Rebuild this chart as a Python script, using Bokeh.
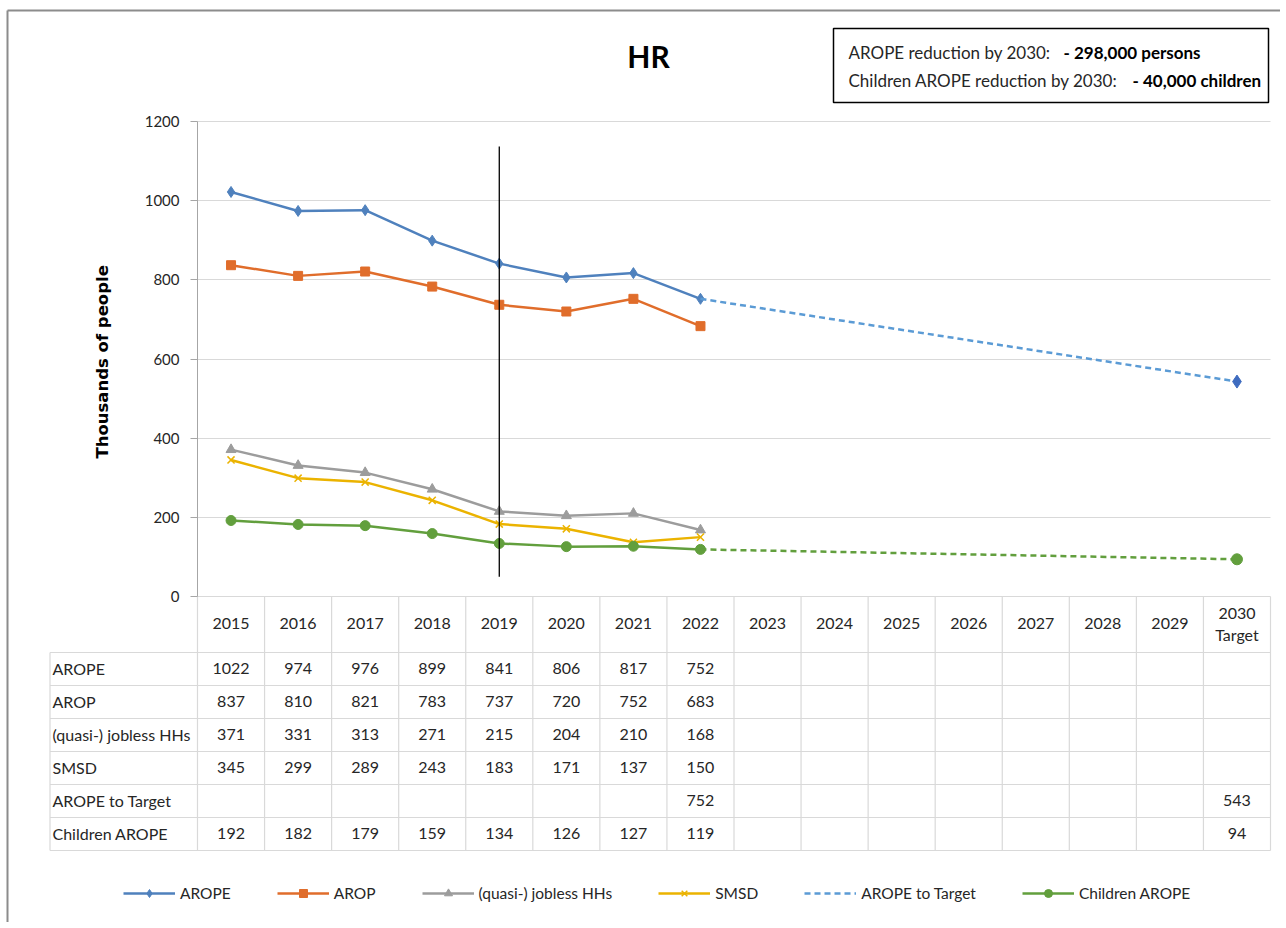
from bokeh.plotting import figure
from bokeh.models import Range1d, FixedTicker, Legend, LegendItem
from bokeh.embed import file_html
from bokeh.resources import INLINE
from bokeh.core.properties import value

# ---------------- data ----------------
categories = ["2015", "2016", "2017", "2018", "2019", "2020", "2021", "2022",
              "2023", "2024", "2025", "2026", "2027", "2028", "2029", "2030 Target"]
header_labels = categories[:-1] + ["2030\nTarget"]
years = ["2015", "2016", "2017", "2018", "2019", "2020", "2021", "2022"]
arope = [1022, 974, 976, 899, 841, 806, 817, 752]
arop = [837, 810, 821, 783, 737, 720, 752, 683]
jobless = [371, 331, 313, 271, 215, 204, 210, 168]
smsd = [345, 299, 289, 243, 183, 171, 137, 150]
target_x = ["2022", "2030 Target"]
arope_target = [752, 543]
children = [192, 182, 179, 159, 134, 126, 127, 119]
children_target = [119, 94]
y_ticks = [0, 200, 400, 600, 800, 1000, 1200]
marker_year = "2019"
marker_span = [50, 1137]
title_text = "HR"
box_line1 = ("AROPE reduction by 2030: ", "- 298,000 persons")
box_line2 = ("Children AROPE reduction by 2030: ", "- 40,000 children")
row_names = ["AROPE", "AROP", "(quasi-) jobless HHs", "SMSD", "AROPE to Target", "Children AROPE"]

# ---------------- styles / layout ----------------
C_AROPE = "#4f81bd"
C_AROP = "#e06d2b"
C_JOB = "#9c9c9c"
C_SMSD = "#ebb300"
C_TGT = "#5b9bd5"
C_TGT_M = "#3e6bbf"
C_CH = "#629f3d"
GRID = "#d9d9d9"
FONT = "Lato"
TXT = "#262626"
LW = 2.5

PAGE0 = 0                        # page offset of the figure (template has no margin)
W, H = 1280, 922
FRAME_L, FRAME_R = 197, 1270     # page px of chart plot area
FRAME_B, Y1200 = 596, 121
N = len(categories)
PX = (FRAME_R - FRAME_L) / N     # px per category
UPP = 1200 / (FRAME_B - Y1200)   # data units per px


def X(px):
    return (px - FRAME_L) / PX


def Y(py):
    return (FRAME_B - py) * UPP


def xpos(cat):
    return categories.index(cat) + 0.5


p = figure(width=W, height=H,
           x_range=Range1d(X(PAGE0), X(PAGE0 + W)),
           y_range=Range1d(Y(PAGE0 + H), Y(PAGE0)),
           x_axis_location=None, title=None, toolbar_location=None,
           output_backend="svg", min_border=0, outline_line_color=None,
           background_fill_color="white", border_fill_color="white")

# grid limited to the chart area
p.xgrid.visible = False
try:
    p.ygrid.cross_bounds = (0, N)
    p.ygrid.ticker = FixedTicker(ticks=y_ticks[1:])
    p.ygrid.grid_line_color = GRID
except AttributeError:
    p.ygrid.visible = False
    gy = y_ticks[1:]
    p.segment(x0=[0] * len(gy), x1=[N] * len(gy), y0=gy, y1=gy,
              line_color=GRID, line_width=1)

# y axis placed at the chart's left edge
ax = p.yaxis[0]
ax.fixed_location = 0
ax.ticker = FixedTicker(ticks=y_ticks)
ax.bounds = (0, 1200)
ax.axis_line_color = "#a6a6a6"
ax.major_tick_line_color = "#a6a6a6"
ax.major_tick_out = 7
ax.major_tick_in = 0
ax.minor_tick_line_color = None
ax.major_label_standoff = 11
ax.major_label_text_font = FONT
ax.major_label_text_font_size = "15px"
ax.major_label_text_color = TXT
ax.axis_label = "Thousands  of people"
ax.axis_label_text_font = "DejaVu Sans"
ax.axis_label_text_font_style = "bold"
ax.axis_label_text_font_size = "16.5px"
ax.axis_label_text_color = "black"
ax.axis_label_standoff = 30

# outer chart border (top and left visible)
p.segment(x0=[X(7), X(7)], x1=[X(7), X(PAGE0 + W)], y0=[Y(PAGE0 + H), Y(10)],
          y1=[Y(10), Y(10)], line_color="#8c8c8c", line_width=2)

# ---------------- series ----------------
yx = [xpos(c) for c in years]
tx = [xpos(c) for c in target_x]
l1 = p.line(yx, arope, line_color=C_AROPE, line_width=LW)
s1 = p.scatter(yx, arope, marker="diamond", size=11, fill_color=C_AROPE, line_color=C_AROPE)
l2 = p.line(yx, arop, line_color=C_AROP, line_width=LW)
s2 = p.scatter(yx, arop, marker="square", size=9, fill_color=C_AROP, line_color=C_AROP)
l3 = p.line(yx, jobless, line_color=C_JOB, line_width=LW)
s3 = p.scatter(yx, jobless, marker="triangle", size=10, fill_color=C_JOB, line_color=C_JOB)
l4 = p.line(yx, smsd, line_color=C_SMSD, line_width=LW)
s4 = p.scatter(yx, smsd, marker="x", size=10, line_color=C_SMSD, line_width=1.5)
l5 = p.line(tx, arope_target, line_color=C_TGT, line_width=LW, line_dash="6 4")
p.scatter(tx[-1:], arope_target[-1:], marker="diamond", size=13,
          fill_color=C_TGT_M, line_color=C_TGT_M)
l6 = p.line(yx, children, line_color=C_CH, line_width=LW)
s6 = p.scatter(yx, children, size=10, fill_color=C_CH, line_color=C_CH)
p.line(tx, children_target, line_color=C_CH, line_width=LW, line_dash="6 4")
p.scatter(tx[-1:], children_target[-1:], size=11, fill_color=C_CH, line_color=C_CH)

vx = xpos(marker_year)
p.segment(x0=[vx], x1=[vx], y0=[marker_span[0]], y1=[marker_span[1]],
          line_color="black", line_width=1.3)

# ---------------- title + annotation box ----------------
p.text(x=[X(648)], y=[Y(55)], text=[title_text], text_align="center",
       text_baseline="middle", text_font=value(FONT), text_font_size="30px",
       text_font_style="bold", text_color="black")
p.quad(left=[X(833)], right=[X(1268)], top=[Y(28)], bottom=[Y(102)],
       fill_color="white", line_color="black", line_width=1.5)
for (norm, bold), ypx, bx in [(box_line1, 52, 1063), (box_line2, 80, 1132)]:
    p.text(x=[X(848)], y=[Y(ypx)], text=[norm], text_baseline="middle",
           text_font=value(FONT), text_font_size="17px", text_color=TXT)
    p.text(x=[X(bx)], y=[Y(ypx)], text=[bold], text_baseline="middle",
           text_font=value(FONT), text_font_size="17px", text_font_style="bold",
           text_color="black")

# ---------------- data table ----------------
HDR_B = 652        # page y of header bottom
ROW = 33
TAB_L = 49.5
nrows = len(row_names)
TAB_B = HDR_B + ROW * nrows

hx0, hx1, hy = [0], [N], [0]
for r in range(nrows + 1):
    hx0.append(X(TAB_L))
    hx1.append(N)
    hy.append(Y(HDR_B + ROW * r))
p.segment(x0=hx0, x1=hx1, y0=hy, y1=hy, line_color=GRID, line_width=1.2)
vxs = list(range(N + 1)) + [X(TAB_L)]
vy0 = [0] * (N + 1) + [Y(HDR_B)]
vy1 = [Y(TAB_B)] * (N + 2)
p.segment(x0=vxs, x1=vxs, y0=vy0, y1=vy1, line_color=GRID, line_width=1.2)

p.text(x=[i + 0.5 for i in range(N)], y=[Y(623)] * N,
       text=header_labels, text_align="center", text_baseline="middle",
       text_font=value(FONT), text_font_size="16px", text_color=TXT,
       text_line_height=1.15)

row_values = [
    dict(zip(years, arope)),
    dict(zip(years, arop)),
    dict(zip(years, jobless)),
    dict(zip(years, smsd)),
    dict(zip(target_x, arope_target)),
    {**dict(zip(years, children)), **dict(zip(target_x, children_target))},
]
cxs, cys, cts = [], [], []
for r, vals in enumerate(row_values):
    for c in categories:
        if c in vals:
            cxs.append(xpos(c))
            cys.append(Y(HDR_B + ROW * r + 15.5))
            cts.append(str(vals[c]))
p.text(x=cxs, y=cys, text=cts, text_align="center", text_baseline="middle",
       text_font=value(FONT), text_font_size="16px", text_color=TXT)
p.text(x=[X(52)] * nrows, y=[Y(HDR_B + ROW * r + 15.5) for r in range(nrows)],
       text=row_names, text_align="left", text_baseline="middle",
       text_font=value(FONT), text_font_size="16px", text_color=TXT)

# ---------------- legend ----------------
items = [
    LegendItem(label=row_names[0], renderers=[l1, s1]),
    LegendItem(label=row_names[1], renderers=[l2, s2]),
    LegendItem(label=row_names[2], renderers=[l3, s3]),
    LegendItem(label=row_names[3], renderers=[l4, s4]),
    LegendItem(label=row_names[4], renderers=[l5]),
    LegendItem(label=row_names[5], renderers=[l6, s6]),
]
leg = Legend(items=items, location=(123 - PAGE0, (PAGE0 + H) - 893 - 10),
             orientation="horizontal",
             glyph_width=52, glyph_height=20, label_standoff=5, spacing=46,
             padding=0, margin=0, border_line_color=None, background_fill_alpha=0,
             label_text_font=FONT, label_text_font_size="15.5px", label_text_color=TXT)
p.add_layout(leg)

open("out.html", "w").write(file_html(p, INLINE))
